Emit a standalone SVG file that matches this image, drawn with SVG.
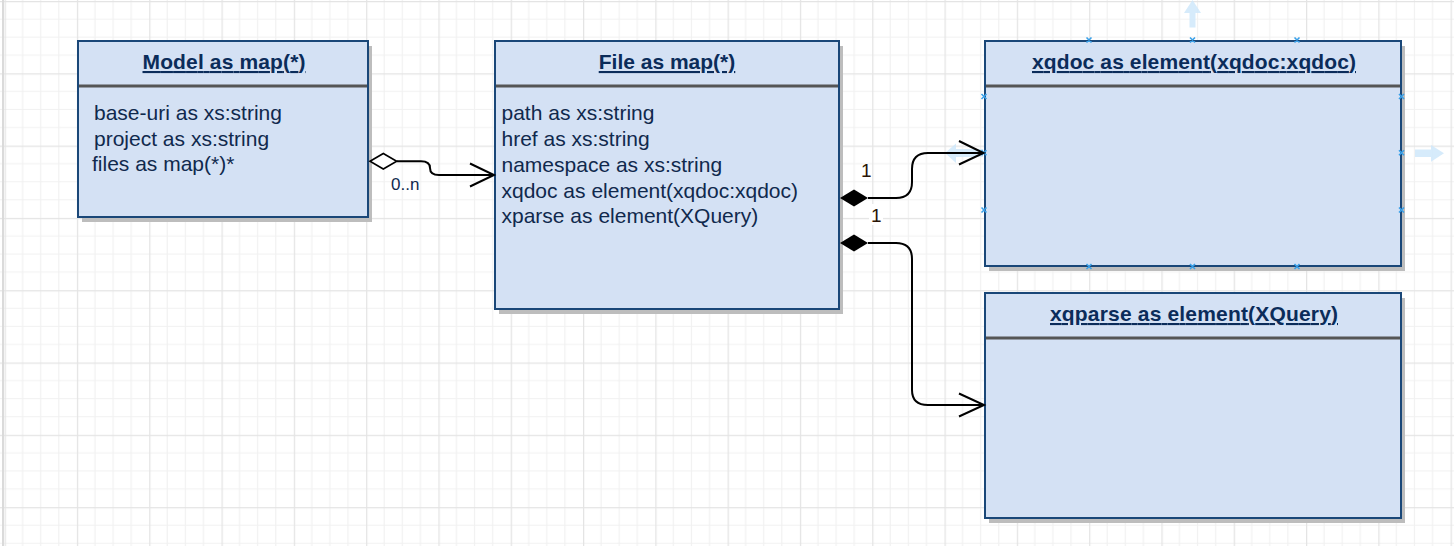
<svg xmlns="http://www.w3.org/2000/svg" width="1454" height="546" viewBox="0 0 1454 546">
<style>
.box{fill:#D4E1F4;stroke:#1A4778;stroke-width:2}
.shadow{fill:#BDBDBD}
.sep{stroke:#555;stroke-width:3}
.title{font-family:"Liberation Sans",Arial,sans-serif;font-size:21px;font-weight:bold;fill:#0B2C5A;text-anchor:middle;text-decoration:underline}
.attr{font-family:"Liberation Sans",Arial,sans-serif;font-size:21px;fill:#10294D}
.conn{fill:none;stroke:#000;stroke-width:2}
.lbl{font-family:"Liberation Sans",Arial,sans-serif;fill:#2A1406}
.mk{stroke:#3AA0E8;stroke-width:1.6;fill:none}
.ghost{fill:#CFE8FA;opacity:0.85}
</style>
<defs>
<pattern id="grid" patternUnits="userSpaceOnUse" x="4.6" y="1" width="72.3" height="72.3">
<path d="M18.075,0V72.3M36.15,0V72.3M54.225,0V72.3M0,18.075H72.3M0,36.15H72.3M0,54.225H72.3" stroke="#F1F1F1" stroke-width="1.2" fill="none"/>
<path d="M0.5,0V72.3M0,0.5H72.3" stroke="#E4E4E4" stroke-width="1.5" fill="none"/>
</pattern>
</defs>
<rect width="1454" height="546" fill="#fff"/>
<rect width="1454" height="546" fill="url(#grid)"/>
<line x1="3" y1="0" x2="3" y2="546" stroke="#DADADA" stroke-width="2"/>

<g id="model">
<rect class="shadow" x="82" y="46" width="290" height="176"/>
<rect class="box" x="78" y="41" width="290" height="176"/>
<line class="sep" x1="79" y1="86" x2="367" y2="86"/>
<text class="title" x="224" y="69" textLength="163" lengthAdjust="spacing">Model as map(*)</text>
<text class="attr" x="94" y="120">base-uri as xs:string</text>
<text class="attr" x="94" y="146">project as xs:string</text>
<text class="attr" x="92" y="171">files as map(*)*</text>
</g>

<g id="file">
<rect class="shadow" x="499" y="46" width="344" height="268"/>
<rect class="box" x="495" y="41" width="344" height="268"/>
<line class="sep" x1="496" y1="86" x2="838" y2="86"/>
<text class="title" x="667" y="69">File as map(*)</text>
<text class="attr" x="501.5" y="120">path as xs:string</text>
<text class="attr" x="501.5" y="146">href as xs:string</text>
<text class="attr" x="501.5" y="172">namespace as xs:string</text>
<text class="attr" x="501.5" y="197.5">xqdoc as element(xqdoc:xqdoc)</text>
<text class="attr" x="501.5" y="223">xparse as element(XQuery)</text>
</g>

<g id="xqdoc">
<rect class="shadow" x="989" y="46" width="416" height="225"/>
<rect class="box" x="985" y="41" width="416" height="225"/>
<line class="sep" x1="986" y1="86" x2="1400" y2="86"/>
<text class="title" x="1194" y="69" textLength="324" lengthAdjust="spacing">xqdoc as element(xqdoc:xqdoc)</text>
<path class="ghost" d="M1192.5,0 L1201,13 L1195.5,13 L1195.5,27.5 L1189.5,27.5 L1189.5,13 L1184,13 Z"/>
<path class="ghost" d="M1444,153.3 L1431,145 L1431,149.5 L1415,149.5 L1415,157 L1431,157 L1431,161.7 Z"/>
<path class="ghost" d="M945,153 L956,143.5 L956,149 L983,149 L983,157 L956,157 L956,163 Z"/>
<g class="mk">
<path d="M1086.5,37.5l5,5m0-5l-5,5M1190,37.5l5,5m0-5l-5,5M1294.5,37.5l5,5m0-5l-5,5"/>
<path d="M1086.5,264l5,5m0-5l-5,5M1190,264l5,5m0-5l-5,5M1294.5,264l5,5m0-5l-5,5"/>
<path d="M981.5,94l5,5m0-5l-5,5M981.5,150.2l5,5m0-5l-5,5M981.5,207.5l5,5m0-5l-5,5"/>
<path d="M1399,94l5,5m0-5l-5,5M1399,150.2l5,5m0-5l-5,5M1399,207.5l5,5m0-5l-5,5"/>
</g>
</g>

<g id="xqparse">
<rect class="shadow" x="989" y="298" width="416" height="225"/>
<rect class="box" x="985" y="293" width="416" height="225"/>
<line class="sep" x1="986" y1="338" x2="1400" y2="338"/>
<text class="title" x="1194" y="321" textLength="288" lengthAdjust="spacing">xqparse as element(XQuery)</text>
</g>

<g id="connectors">
<path class="conn" d="M396.7,161.3 H421 Q430,161.3 430,168 Q430,175 439,175 H493"/>
<polygon points="370,161.3 383.3,153.5 396.7,161.3 383.3,169" fill="#fff" stroke="#000" stroke-width="1.6"/>
<polyline class="conn" points="470,163.5 494,175 470,186.5"/>
<text class="lbl" x="391" y="190" font-size="17" style="fill:#10294D">0..n</text>

<path class="conn" d="M868,198 H896 Q912,198 912,182 V169 Q912,153 928,153 H983"/>
<polygon points="840,198 854,189.5 868,198 854,206.5" fill="#000"/>
<polyline class="conn" points="959,141 983.5,153 959,164.5"/>
<text class="lbl" x="861" y="177" font-size="19">1</text>
<rect x="869" y="204" width="14" height="21" fill="#fff"/>
<text class="lbl" x="871" y="222" font-size="19">1</text>

<path class="conn" d="M868,243 H896 Q912,243 912,259 V390 Q912,405 928,405 H984"/>
<polygon points="840,243 854,234.5 868,243 854,251.5" fill="#000"/>
<polyline class="conn" points="959,393.5 984,405 959,416.5"/>
</g>
</svg>
